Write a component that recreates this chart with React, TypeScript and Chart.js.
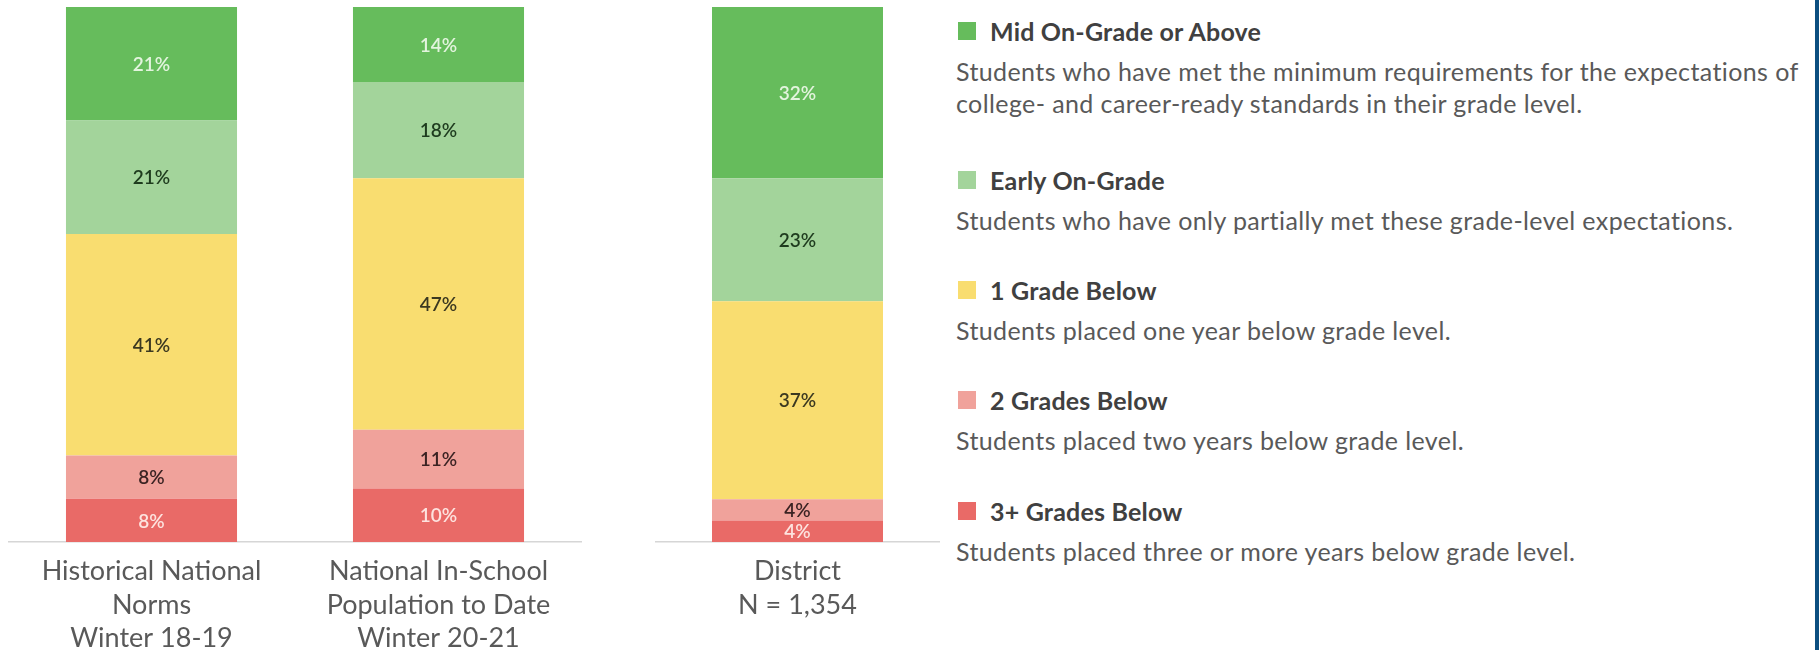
import React, { useEffect, useRef } from "react";
import { Chart, registerables } from "chart.js";

Chart.register(...registerables);

// ---------- DATA ----------
const levelNames = [
  "3+ Grades Below",
  "2 Grades Below",
  "1 Grade Below",
  "Early On-Grade",
  "Mid On-Grade or Above",
];

const nationalCategories = [
  ["Historical National", "Norms", "Winter 18-19"],
  ["National In-School", "Population to Date", "Winter 20-21"],
];
const districtCategories = [["District", "N = 1,354"]];

// values per level: [Historical National Norms, National In-School, District]
const threePlusBelow = [8, 10, 4];
const twoBelow = [8, 11, 4];
const oneBelow = [41, 47, 37];
const earlyOnGrade = [21, 18, 23];
const midOnGrade = [21, 14, 32];

const levelValues = [threePlusBelow, twoBelow, oneBelow, earlyOnGrade, midOnGrade];

const levelColors = ["#e96a67", "#f0a29b", "#f9dd70", "#a3d49b", "#66bc5c"];
const valueLabelColors = ["#fde3df", "#3b2323", "#3b3820", "#1e3b1e", "#e3f4de"];

// descriptions in level order (3+ Grades Below first)
const legendDescriptions = [
  ["Students placed three or more years below grade level."],
  ["Students placed two years below grade level."],
  ["Students placed one year below grade level."],
  ["Students who have only partially met these grade-level expectations."],
  ["Students who have met the minimum requirements for the expectations of", "college- and career-ready standards in their grade level."],
];
const legendOrder = [4, 3, 2, 1, 0];

// ---------- CHART HELPERS ----------
const FONT = "Lato, 'Open Sans', sans-serif";
const TICK_SIZE = 27;
const TICK_LH = 1.24;
const AXIS_H = 108;

const valueLabelPlugin = {
  id: "valueLabels",
  afterDatasetsDraw(chart: any) {
    const ctx = chart.ctx;
    chart.data.datasets.forEach((ds: any, di: number) => {
      const meta = chart.getDatasetMeta(di);
      meta.data.forEach((el: any, i: number) => {
        const raw = ds.rawValues[i];
        const p = el.getProps(["x", "y", "base"], true);
        ctx.save();
        ctx.font = `600 19px ${FONT}`;
        ctx.fillStyle = ds.labelColor;
        ctx.textAlign = "center";
        ctx.textBaseline = "middle";
        ctx.fillText(`${raw}%`, p.x, (p.y + p.base) / 2 + 1);
        ctx.restore();
      });
    });
  },
};

function buildChart(canvas: HTMLCanvasElement, labels: string[][], cols: number[], barPct: number) {
  const totals = cols.map((c) => levelValues.reduce((s, arr) => s + arr[c], 0));
  const datasets = levelValues.map((arr, li) => ({
    label: levelNames[li],
    data: cols.map((c, k) => (arr[c] / totals[k]) * 100),
    rawValues: cols.map((c) => arr[c]),
    labelColor: valueLabelColors[li],
    backgroundColor: levelColors[li],
    borderWidth: 0,
    barPercentage: barPct,
    categoryPercentage: 1,
  }));
  return new Chart(canvas, {
    type: "bar",
    data: { labels, datasets: datasets as any },
    plugins: [valueLabelPlugin],
    options: {
      animation: false,
      responsive: true,
      maintainAspectRatio: false,
      layout: { padding: 0 },
      plugins: { legend: { display: false }, tooltip: { enabled: false } },
      scales: {
        x: {
          stacked: true,
          grid: { display: false, drawTicks: false },
          border: { display: true, color: "#d6d6d6", width: 1.5 },
          ticks: {
            padding: 13,
            color: "#595959",
            font: { family: FONT, size: TICK_SIZE, lineHeight: TICK_LH },
            autoSkip: false,
            maxRotation: 0,
          },
          afterFit: (scale: any) => {
            scale.height = AXIS_H;
          },
        },
        y: { stacked: true, display: false, min: 0, max: 100 },
      },
    },
  });
}

const CANVAS_H = 643;

function NationalChart() {
  const ref = useRef<HTMLCanvasElement | null>(null);
  useEffect(() => {
    const ch = buildChart(ref.current!, nationalCategories, [0, 1], 0.596);
    return () => ch.destroy();
  }, []);
  return (
    <div style={{ position: "absolute", left: 8, top: 7, width: 574, height: CANVAS_H }}>
      <canvas ref={ref} />
    </div>
  );
}

function DistrictChart() {
  const ref = useRef<HTMLCanvasElement | null>(null);
  useEffect(() => {
    const ch = buildChart(ref.current!, districtCategories, [2], 0.6);
    return () => ch.destroy();
  }, []);
  return (
    <div style={{ position: "absolute", left: 655, top: 7, width: 285, height: CANVAS_H }}>
      <canvas ref={ref} />
    </div>
  );
}

const titleCenters = [31, 180, 290, 400, 511];

function Legend() {
  return (
    <>
      {legendOrder.map((li, k) => (
        <div key={li}>
          <div
            style={{
              position: "absolute",
              left: 958,
              top: titleCenters[k] - 9,
              width: 18,
              height: 18,
              background: levelColors[li],
            }}
          />
          <div
            style={{
              position: "absolute",
              left: 990,
              top: titleCenters[k] - 16,
              height: 32,
              lineHeight: "32px",
              fontFamily: FONT,
              fontWeight: 700,
              fontSize: 25,
              letterSpacing: 0.2,
              color: "#404040",
              whiteSpace: "nowrap",
            }}
          >
            {levelNames[li]}
          </div>
          <div
            style={{
              position: "absolute",
              left: 956,
              top: titleCenters[k] + 40 - 16,
              lineHeight: "32px",
              fontFamily: FONT,
              fontSize: 25,
              letterSpacing: 0.4,
              color: "#595959",
              whiteSpace: "nowrap",
            }}
          >
            {legendDescriptions[li].map((line, j) => (
              <div key={j}>{line}</div>
            ))}
          </div>
        </div>
      ))}
    </>
  );
}

export default function App() {
  return (
    <div style={{ position: "relative", width: 1819, height: 650, overflow: "hidden", background: "#ffffff" }}>
      <style>{"body{margin:0;}"}</style>
      <NationalChart />
      <DistrictChart />
      <Legend />
      <div style={{ position: "absolute", right: 0, top: 0, width: 4, height: 650, background: "#0c4f80" }} />
    </div>
  );
}
